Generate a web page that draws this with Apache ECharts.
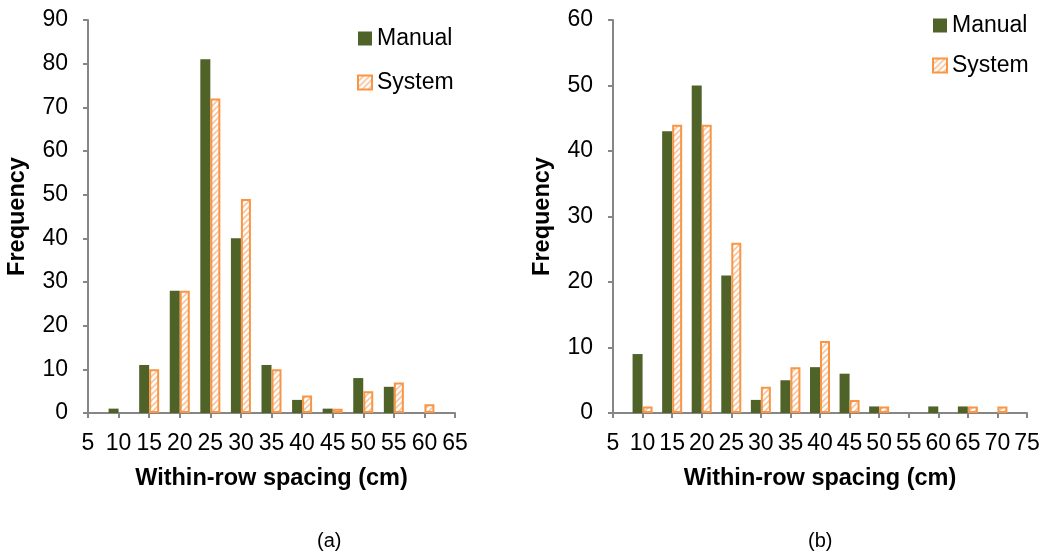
<!DOCTYPE html>
<html>
<head>
<meta charset="utf-8">
<script src="https://cdn.jsdelivr.net/npm/echarts@6/dist/echarts.min.js"></script>
<style>
  html, body { margin: 0; padding: 0; background: #fff; }
  #chart { width: 1043px; height: 554px; }
</style>
</head>
<body>
<div id="chart"></div>
<script>
// Spacing classes (cm) and counts for panel (a)
const spacingA = [10, 15, 20, 25, 30, 35, 40, 45, 50, 55, 60];
const manualA  = [1, 11, 28, 81, 40, 11, 3, 1, 8, 6, 0];
const systemA  = [0, 10, 28, 72, 49, 10, 4, 1, 5, 7, 2];

// Spacing classes (cm) and counts for panel (b)
const spacingB = [10, 15, 20, 25, 30, 35, 40, 45, 50, 55, 60, 65, 70];
const manualB  = [9, 43, 50, 21, 2, 5, 7, 6, 1, 0, 1, 1, 0];
const systemB  = [1, 44, 44, 26, 4, 7, 11, 2, 1, 0, 0, 1, 1];

// Axis ranges: [min, max, step]
const xRangeA = [5, 65, 5];
const xRangeB = [5, 75, 5];
const yRangeA = [0, 90, 10];
const yRangeB = [0, 60, 10];

const seriesNames = ['Manual', 'System'];
const panelLabels = ['(a)', '(b)'];
const xTitle = 'Within-row spacing (cm)';
const yTitle = 'Frequency';

const FONT = '"Liberation Sans", Arial, sans-serif';
const AXIS_GREY = '#868686';
const GREEN = '#4F6228';
const ORANGE = '#F79646';

// Diagonal hatch tile for the System bars
function hatchTile() {
  const c = document.createElement('canvas');
  c.width = 6; c.height = 6;
  const g = c.getContext('2d');
  g.fillStyle = '#ffffff';
  g.fillRect(0, 0, 6, 6);
  g.strokeStyle = '#FBC39A';
  g.lineWidth = 1.6;
  g.beginPath();
  g.moveTo(-1, 7); g.lineTo(7, -1);
  g.moveTo(-4, 4); g.lineTo(4, -4);
  g.moveTo(2, 10); g.lineTo(10, 2);
  g.stroke();
  return c;
}
const hatch = { image: hatchTile(), repeat: 'repeat' };

// Zero counts are not drawn as bars
function pairs(xs, ys) {
  return xs.map((x, i) => [x, ys[i]]).filter(p => p[1] > 0);
}

const grids = [
  { left: 88, top: 20, width: 367, height: 393 },
  { left: 613, top: 20, width: 414, height: 393 }
];

function xAxisDef(idx, r) {
  return {
    type: 'value', gridIndex: idx, min: r[0], max: r[1], interval: r[2],
    name: xTitle, nameLocation: 'middle', nameGap: 54,
    nameTextStyle: { fontFamily: FONT, fontSize: 23.5, fontWeight: 'bold', color: '#000' },
    axisLine: { show: true, onZero: false, lineStyle: { color: AXIS_GREY, width: 2 } },
    axisTick: { show: true, inside: false, length: 5, lineStyle: { color: AXIS_GREY, width: 2 } },
    axisLabel: { fontFamily: FONT, fontSize: 23, color: '#000', margin: 19 },
    splitLine: { show: false }
  };
}
function yAxisDef(idx, r) {
  return {
    type: 'value', gridIndex: idx, min: r[0], max: r[1], interval: r[2],
    name: yTitle, nameLocation: 'middle', nameGap: 58, nameRotate: 90,
    nameTextStyle: { fontFamily: FONT, fontSize: 23.5, fontWeight: 'bold', color: '#000' },
    axisLine: { show: true, lineStyle: { color: AXIS_GREY, width: 2 } },
    axisTick: { show: true, inside: false, length: 5, lineStyle: { color: AXIS_GREY, width: 2 } },
    axisLabel: { fontFamily: FONT, fontSize: 23, color: '#000', margin: 20 },
    splitLine: { show: false }
  };
}

function manualSeries(idx, xs, ys) {
  return {
    name: seriesNames[0], type: 'bar', xAxisIndex: idx, yAxisIndex: idx,
    barWidth: 10, barGap: '0%',
    itemStyle: { color: GREEN },
    data: pairs(xs, ys)
  };
}
function systemSeries(idx, xs, ys) {
  return {
    name: seriesNames[1], type: 'bar', xAxisIndex: idx, yAxisIndex: idx,
    barWidth: 10, barGap: '0%',
    itemStyle: { color: hatch, borderColor: ORANGE, borderWidth: 2 },
    data: pairs(xs, ys)
  };
}

function legendDef(left, top, gap) {
  return {
    left: left, top: top, orient: 'vertical', itemGap: gap, padding: 0,
    itemWidth: 14, itemHeight: 14, icon: 'rect',
    textStyle: { fontFamily: FONT, fontSize: 23, color: '#000', lineHeight: 23 },
    data: seriesNames
  };
}

const chart = echarts.init(document.getElementById('chart'), null, { renderer: 'canvas' });
chart.setOption({
  animation: false,
  backgroundColor: '#fff',
  grid: grids,
  xAxis: [xAxisDef(0, xRangeA), xAxisDef(1, xRangeB)],
  yAxis: [yAxisDef(0, yRangeA), yAxisDef(1, yRangeB)],
  legend: [legendDef(357, 27, 21), legendDef(932, 14, 17)],
  series: [
    manualSeries(0, spacingA, manualA),
    systemSeries(0, spacingA, systemA),
    manualSeries(1, spacingB, manualB),
    systemSeries(1, spacingB, systemB)
  ],
  graphic: [
    { type: 'text', left: 331 - 14, top: 531,
      style: { text: panelLabels[0], fontFamily: FONT, fontSize: 20, fill: '#000' } },
    { type: 'text', left: 822 - 14, top: 531,
      style: { text: panelLabels[1], fontFamily: FONT, fontSize: 20, fill: '#000' } }
  ]
});
</script>
</body>
</html>
